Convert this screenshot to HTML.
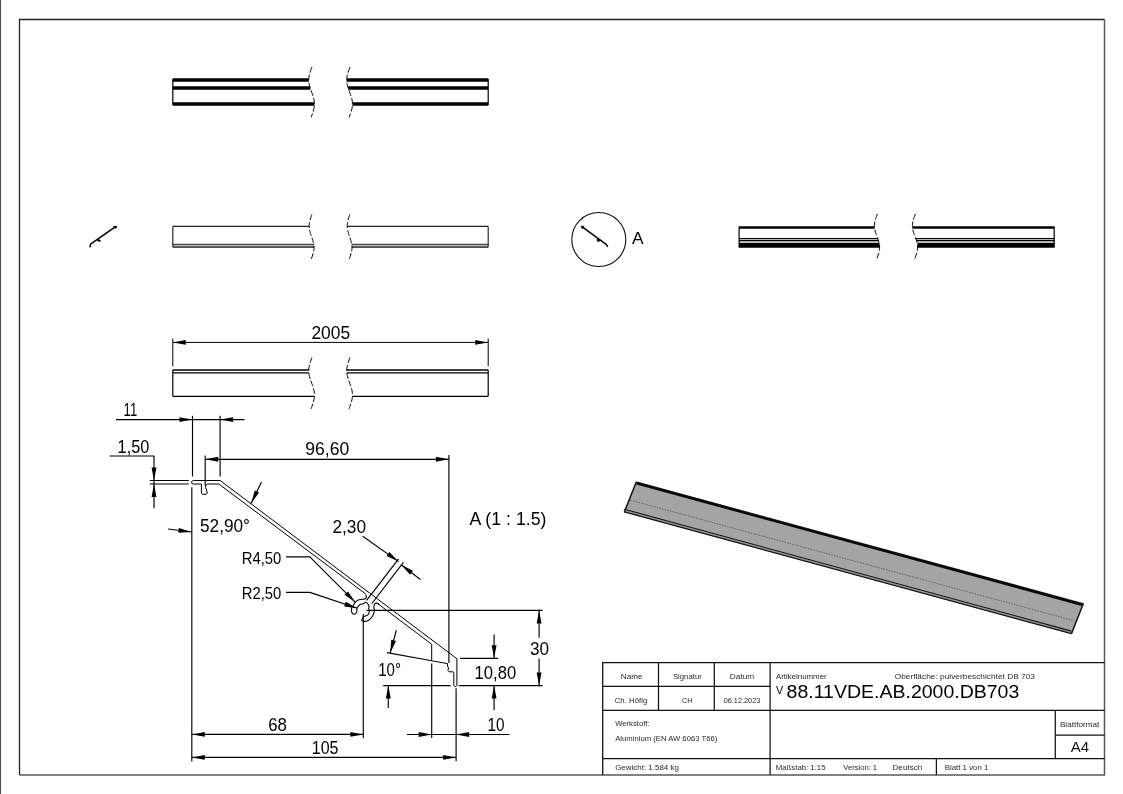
<!DOCTYPE html>
<html><head><meta charset="utf-8"><style>
html,body{margin:0;padding:0;background:#fff;width:1123px;height:794px;overflow:hidden}
svg{display:block;will-change:transform;font-family:"Liberation Sans",sans-serif}
</style></head><body>
<svg width="1123" height="794" viewBox="0 0 1123 794">
<line x1="0.50" y1="0.00" x2="0.50" y2="794.00" stroke="#555" stroke-width="1.2" />
<path d="M19.5,775 L19.5,19.5 L1104.5,19.5" fill="none" stroke="#222" stroke-width="1.3"/>
<path d="M19.5,775 L1104.5,775 L1104.5,19.5" fill="none" stroke="#5a5a5a" stroke-width="1.5"/>
<path d="M172.80,80.00 L308.75,80.00" stroke="#000" stroke-width="3.4" fill="none" stroke-linejoin="round" />
<path d="M346.75,80.00 L488.20,80.00" stroke="#000" stroke-width="3.4" fill="none" stroke-linejoin="round" />
<path d="M172.80,88.00 L310.18,88.00" stroke="#000" stroke-width="3.4" fill="none" stroke-linejoin="round" />
<path d="M348.18,88.00 L488.20,88.00" stroke="#000" stroke-width="3.4" fill="none" stroke-linejoin="round" />
<path d="M172.80,104.00 L314.45,104.00" stroke="#000" stroke-width="3.4" fill="none" stroke-linejoin="round" />
<path d="M352.45,104.00 L488.20,104.00" stroke="#000" stroke-width="3.4" fill="none" stroke-linejoin="round" />
<line x1="172.80" y1="79.00" x2="172.80" y2="105.00" stroke="#000" stroke-width="1.2" />
<line x1="488.20" y1="79.00" x2="488.20" y2="105.00" stroke="#000" stroke-width="1.2" />
<path d="M311.97,67.00 L311.50,68.26 L311.03,69.53 L310.58,70.79 L310.15,72.05 L309.77,73.31 L309.43,74.58 L309.16,75.84 L308.95,77.10 L308.81,78.36 L308.75,79.62 L308.77,80.89 L308.86,82.15 L309.03,83.41 L309.27,84.67 L309.57,85.94 L309.93,87.20 L310.34,88.46 L310.77,89.72 L311.23,90.99 L311.70,92.25 L312.17,93.51 L312.62,94.78 L313.05,96.04 L313.43,97.30 L313.77,98.56 L314.04,99.83 L314.25,101.09 L314.39,102.35 L314.45,103.61 L314.43,104.88 L314.34,106.14 L314.17,107.40 L313.93,108.66 L313.63,109.92 L313.27,111.19 L312.86,112.45 L312.43,113.71 L311.97,114.97 L311.50,116.24 L311.03,117.50" stroke="#000" stroke-width="1.0" fill="none" stroke-linejoin="round" stroke-dasharray="6,2"/>
<path d="M349.97,67.00 L349.50,68.26 L349.03,69.53 L348.58,70.79 L348.15,72.05 L347.77,73.31 L347.43,74.58 L347.16,75.84 L346.95,77.10 L346.81,78.36 L346.75,79.62 L346.77,80.89 L346.86,82.15 L347.03,83.41 L347.27,84.67 L347.57,85.94 L347.93,87.20 L348.34,88.46 L348.77,89.72 L349.23,90.99 L349.70,92.25 L350.17,93.51 L350.62,94.78 L351.05,96.04 L351.43,97.30 L351.77,98.56 L352.04,99.83 L352.25,101.09 L352.39,102.35 L352.45,103.61 L352.43,104.88 L352.34,106.14 L352.17,107.40 L351.93,108.66 L351.63,109.92 L351.27,111.19 L350.86,112.45 L350.43,113.71 L349.97,114.97 L349.50,116.24 L349.03,117.50" stroke="#000" stroke-width="1.0" fill="none" stroke-linejoin="round" stroke-dasharray="6,2"/>
<rect x="172.8" y="244.6" width="141.05" height="2.2" fill="#b8b8b8"/>
<rect x="351.85" y="244.6" width="136.35" height="2.2" fill="#b8b8b8"/>
<path d="M172.80,226.40 L309.20,226.40" stroke="#222" stroke-width="1.15" fill="none" stroke-linejoin="round" />
<path d="M347.20,226.40 L488.20,226.40" stroke="#222" stroke-width="1.15" fill="none" stroke-linejoin="round" />
<path d="M172.80,244.30 L313.75,244.30" stroke="#222" stroke-width="1.0" fill="none" stroke-linejoin="round" />
<path d="M351.75,244.30 L488.20,244.30" stroke="#222" stroke-width="1.0" fill="none" stroke-linejoin="round" />
<path d="M172.80,247.10 L314.00,247.10" stroke="#111" stroke-width="1.2" fill="none" stroke-linejoin="round" />
<path d="M352.00,247.10 L488.20,247.10" stroke="#111" stroke-width="1.2" fill="none" stroke-linejoin="round" />
<line x1="172.80" y1="226.40" x2="172.80" y2="247.10" stroke="#222" stroke-width="1.15" />
<line x1="488.20" y1="226.40" x2="488.20" y2="247.10" stroke="#222" stroke-width="1.15" />
<path d="M311.91,214.40 L311.51,215.53 L311.12,216.66 L310.74,217.78 L310.38,218.91 L310.06,220.04 L309.78,221.16 L309.54,222.29 L309.37,223.42 L309.25,224.55 L309.20,225.68 L309.22,226.80 L309.30,227.93 L309.44,229.06 L309.64,230.19 L309.89,231.31 L310.20,232.44 L310.54,233.57 L310.90,234.69 L311.29,235.82 L311.69,236.95 L312.08,238.08 L312.46,239.21 L312.82,240.33 L313.14,241.46 L313.42,242.59 L313.66,243.72 L313.83,244.84 L313.95,245.97 L314.00,247.10 L313.98,248.22 L313.90,249.35 L313.76,250.48 L313.56,251.61 L313.31,252.74 L313.00,253.86 L312.66,254.99 L312.30,256.12 L311.91,257.25 L311.51,258.37 L311.12,259.50" stroke="#000" stroke-width="1.0" fill="none" stroke-linejoin="round" stroke-dasharray="6,2"/>
<path d="M349.91,214.40 L349.51,215.53 L349.12,216.66 L348.74,217.78 L348.38,218.91 L348.06,220.04 L347.78,221.16 L347.54,222.29 L347.37,223.42 L347.25,224.55 L347.20,225.68 L347.22,226.80 L347.30,227.93 L347.44,229.06 L347.64,230.19 L347.89,231.31 L348.20,232.44 L348.54,233.57 L348.90,234.69 L349.29,235.82 L349.69,236.95 L350.08,238.08 L350.46,239.21 L350.82,240.33 L351.14,241.46 L351.42,242.59 L351.66,243.72 L351.83,244.84 L351.95,245.97 L352.00,247.10 L351.98,248.22 L351.90,249.35 L351.76,250.48 L351.56,251.61 L351.31,252.74 L351.00,253.86 L350.66,254.99 L350.30,256.12 L349.91,257.25 L349.51,258.37 L349.12,259.50" stroke="#000" stroke-width="1.0" fill="none" stroke-linejoin="round" stroke-dasharray="6,2"/>
<path d="M89.90,247.30 L90.60,244.20 L92.00,243.20 L115.60,226.60" stroke="#000" stroke-width="1.5" fill="none" stroke-linejoin="round" />
<path d="M97.8,239.2 L100.6,240.6 L99.6,241.6 L97.8,240.8 Z" fill="#000" stroke="#000" stroke-width="0.8"/>
<path d="M113.6,226.6 L116.8,226.4 L115.6,228.4 Z" fill="#000" stroke="#000" stroke-width="1"/>
<path d="M172.80,370.00 L308.76,370.00" stroke="#000" stroke-width="1.3" fill="none" stroke-linejoin="round" />
<path d="M346.76,370.00 L488.20,370.00" stroke="#000" stroke-width="1.3" fill="none" stroke-linejoin="round" />
<path d="M172.80,372.80 L308.86,372.80" stroke="#000" stroke-width="1.2" fill="none" stroke-linejoin="round" />
<path d="M346.86,372.80 L488.20,372.80" stroke="#000" stroke-width="1.2" fill="none" stroke-linejoin="round" />
<path d="M172.80,396.30 L314.42,396.30" stroke="#000" stroke-width="1.2" fill="none" stroke-linejoin="round" />
<path d="M352.42,396.30 L488.20,396.30" stroke="#000" stroke-width="1.2" fill="none" stroke-linejoin="round" />
<line x1="172.80" y1="370.00" x2="172.80" y2="396.30" stroke="#000" stroke-width="1.2" />
<line x1="488.20" y1="370.00" x2="488.20" y2="396.30" stroke="#000" stroke-width="1.2" />
<path d="M311.97,357.40 L311.50,358.69 L311.03,359.97 L310.58,361.26 L310.15,362.55 L309.77,363.84 L309.43,365.12 L309.16,366.41 L308.95,367.70 L308.81,368.99 L308.75,370.27 L308.77,371.56 L308.86,372.85 L309.03,374.14 L309.27,375.42 L309.57,376.71 L309.93,378.00 L310.34,379.29 L310.77,380.57 L311.23,381.86 L311.70,383.15 L312.17,384.44 L312.62,385.72 L313.05,387.01 L313.43,388.30 L313.77,389.59 L314.04,390.88 L314.25,392.16 L314.39,393.45 L314.45,394.74 L314.43,396.02 L314.34,397.31 L314.17,398.60 L313.93,399.89 L313.63,401.17 L313.27,402.46 L312.86,403.75 L312.43,405.04 L311.97,406.32 L311.50,407.61 L311.03,408.90" stroke="#000" stroke-width="1.0" fill="none" stroke-linejoin="round" stroke-dasharray="6,2"/>
<path d="M349.97,357.40 L349.50,358.69 L349.03,359.97 L348.58,361.26 L348.15,362.55 L347.77,363.84 L347.43,365.12 L347.16,366.41 L346.95,367.70 L346.81,368.99 L346.75,370.27 L346.77,371.56 L346.86,372.85 L347.03,374.14 L347.27,375.42 L347.57,376.71 L347.93,378.00 L348.34,379.29 L348.77,380.57 L349.23,381.86 L349.70,383.15 L350.17,384.44 L350.62,385.72 L351.05,387.01 L351.43,388.30 L351.77,389.59 L352.04,390.88 L352.25,392.16 L352.39,393.45 L352.45,394.74 L352.43,396.02 L352.34,397.31 L352.17,398.60 L351.93,399.89 L351.63,401.17 L351.27,402.46 L350.86,403.75 L350.43,405.04 L349.97,406.32 L349.50,407.61 L349.03,408.90" stroke="#000" stroke-width="1.0" fill="none" stroke-linejoin="round" stroke-dasharray="6,2"/>
<line x1="172.80" y1="338.60" x2="172.80" y2="366.30" stroke="#000" stroke-width="1.0" />
<line x1="488.20" y1="338.60" x2="488.20" y2="366.30" stroke="#000" stroke-width="1.0" />
<line x1="172.80" y1="342.40" x2="488.20" y2="342.40" stroke="#000" stroke-width="1.0" />
<path d="M172.80,342.40 L185.80,339.95 L185.80,344.85 Z" fill="#000"/>
<path d="M488.20,342.40 L475.20,344.85 L475.20,339.95 Z" fill="#000"/>
<text x="311.40" y="338.60" font-size="17.8" fill="#000" textLength="38.7" lengthAdjust="spacingAndGlyphs">2005</text>
<circle cx="598.8" cy="239.5" r="27" fill="none" stroke="#111" stroke-width="1.1"/>
<path d="M582.20,226.80 L606.20,244.30 L607.80,246.90" stroke="#000" stroke-width="1.5" fill="none" stroke-linejoin="round" />
<path d="M597,239.3 L599.8,240.3 L599.2,241.6 L597.2,240.9 Z" fill="#000" stroke="#000" stroke-width="0.8"/>
<path d="M581,226.2 L583.8,226.6 L582.6,228.6 Z" fill="#000" stroke="#000" stroke-width="1"/>
<text x="632.00" y="244.30" font-size="16.8" fill="#000" textLength="11.6" lengthAdjust="spacingAndGlyphs">A</text>
<path d="M739.10,239.40 L878.06,239.40" stroke="#999" stroke-width="0.8" fill="none" stroke-linejoin="round" />
<path d="M916.06,239.40 L1054.20,239.40" stroke="#999" stroke-width="0.8" fill="none" stroke-linejoin="round" />
<path d="M739.10,242.20 L878.92,242.20" stroke="#c0c0c0" stroke-width="1.6" fill="none" stroke-linejoin="round" />
<path d="M916.92,242.20 L1054.20,242.20" stroke="#c0c0c0" stroke-width="1.6" fill="none" stroke-linejoin="round" />
<path d="M739.10,227.40 L874.48,227.40" stroke="#000" stroke-width="2.5" fill="none" stroke-linejoin="round" />
<path d="M912.48,227.40 L1054.20,227.40" stroke="#000" stroke-width="2.5" fill="none" stroke-linejoin="round" />
<path d="M739.10,238.50 L877.75,238.50" stroke="#000" stroke-width="1.0" fill="none" stroke-linejoin="round" />
<path d="M915.75,238.50 L1054.20,238.50" stroke="#000" stroke-width="1.0" fill="none" stroke-linejoin="round" />
<path d="M739.10,240.60 L878.46,240.60" stroke="#000" stroke-width="1.4" fill="none" stroke-linejoin="round" />
<path d="M916.46,240.60 L1054.20,240.60" stroke="#000" stroke-width="1.4" fill="none" stroke-linejoin="round" />
<path d="M739.10,245.35 L879.50,245.35" stroke="#000" stroke-width="4.7" fill="none" stroke-linejoin="round" />
<path d="M917.50,245.35 L1054.20,245.35" stroke="#000" stroke-width="4.7" fill="none" stroke-linejoin="round" />
<line x1="739.10" y1="226.50" x2="739.10" y2="247.60" stroke="#000" stroke-width="1.2" />
<line x1="1054.20" y1="226.50" x2="1054.20" y2="247.60" stroke="#000" stroke-width="1.2" />
<path d="M877.33,214.00 L876.91,215.14 L876.48,216.28 L876.07,217.41 L875.68,218.55 L875.33,219.69 L875.02,220.82 L874.77,221.96 L874.58,223.10 L874.46,224.24 L874.40,225.38 L874.42,226.51 L874.50,227.65 L874.66,228.79 L874.88,229.93 L875.15,231.06 L875.48,232.20 L875.85,233.34 L876.25,234.47 L876.67,235.61 L877.09,236.75 L877.52,237.89 L877.93,239.03 L878.32,240.16 L878.67,241.30 L878.98,242.44 L879.23,243.57 L879.42,244.71 L879.54,245.85 L879.60,246.99 L879.58,248.12 L879.50,249.26 L879.34,250.40 L879.12,251.54 L878.85,252.68 L878.52,253.81 L878.15,254.95 L877.75,256.09 L877.33,257.23 L876.91,258.36 L876.48,259.50" stroke="#000" stroke-width="1.0" fill="none" stroke-linejoin="round" stroke-dasharray="6,2"/>
<path d="M915.33,214.00 L914.91,215.14 L914.48,216.28 L914.07,217.41 L913.68,218.55 L913.33,219.69 L913.02,220.82 L912.77,221.96 L912.58,223.10 L912.46,224.24 L912.40,225.38 L912.42,226.51 L912.50,227.65 L912.66,228.79 L912.88,229.93 L913.15,231.06 L913.48,232.20 L913.85,233.34 L914.25,234.47 L914.67,235.61 L915.09,236.75 L915.52,237.89 L915.93,239.03 L916.32,240.16 L916.67,241.30 L916.98,242.44 L917.23,243.57 L917.42,244.71 L917.54,245.85 L917.60,246.99 L917.58,248.12 L917.50,249.26 L917.34,250.40 L917.12,251.54 L916.85,252.68 L916.52,253.81 L916.15,254.95 L915.75,256.09 L915.33,257.23 L914.91,258.36 L914.48,259.50" stroke="#000" stroke-width="1.0" fill="none" stroke-linejoin="round" stroke-dasharray="6,2"/>
<path d="M636.40,481.80 L1083.40,603.40 L1071.40,632.90 L624.30,511.00 Z" stroke="#444" stroke-width="0.6" fill="#a4a4a4" stroke-linejoin="round" />
<line x1="636.70" y1="483.20" x2="1083.10" y2="604.80" stroke="#080808" stroke-width="2.8" />
<path d="M624.3,510.5 L1071.4,632.4" stroke="#9a9a9a" stroke-width="3"/>
<line x1="624.30" y1="509.20" x2="1071.40" y2="631.10" stroke="#111" stroke-width="1.1" />
<line x1="624.30" y1="511.80" x2="1071.40" y2="633.70" stroke="#111" stroke-width="1.2" />
<path d="M636.40,481.80 L624.30,512.20" stroke="#111" stroke-width="1.4" fill="none" stroke-linejoin="round" />
<path d="M1083.40,603.40 L1071.40,634.10" stroke="#111" stroke-width="1.4" fill="none" stroke-linejoin="round" />
<line x1="630.70" y1="500.30" x2="1073.60" y2="620.60" stroke="#5a5a5a" stroke-width="0.9" stroke-dasharray="1.6,1.1"/>
<path d="M602.7,775 L602.7,662.6 L1104.5,662.6" fill="none" stroke="#111" stroke-width="1.3"/>
<line x1="602.70" y1="686.40" x2="770.10" y2="686.40" stroke="#111" stroke-width="1.25" />
<line x1="602.70" y1="710.40" x2="1104.50" y2="710.40" stroke="#111" stroke-width="1.25" />
<line x1="602.70" y1="758.70" x2="1104.50" y2="758.70" stroke="#111" stroke-width="1.25" />
<line x1="658.50" y1="662.60" x2="658.50" y2="710.40" stroke="#111" stroke-width="1.25" />
<line x1="714.30" y1="662.60" x2="714.30" y2="710.40" stroke="#111" stroke-width="1.25" />
<line x1="770.10" y1="662.60" x2="770.10" y2="775.00" stroke="#111" stroke-width="1.25" />
<line x1="1055.30" y1="710.40" x2="1055.30" y2="758.70" stroke="#111" stroke-width="1.25" />
<line x1="1055.30" y1="735.20" x2="1104.50" y2="735.20" stroke="#111" stroke-width="1.25" />
<line x1="936.40" y1="758.70" x2="936.40" y2="775.00" stroke="#111" stroke-width="1.25" />
<text x="620.8" y="679.2" font-size="7.3" fill="#2a2a2a" textLength="21.7" lengthAdjust="spacingAndGlyphs">Name</text>
<text x="672.9" y="679.2" font-size="7.3" fill="#2a2a2a" textLength="28.9" lengthAdjust="spacingAndGlyphs">Signatur</text>
<text x="729.8" y="679.2" font-size="7.3" fill="#2a2a2a" textLength="24.4" lengthAdjust="spacingAndGlyphs">Datum</text>
<text x="614.7" y="702.5" font-size="7.3" fill="#2a2a2a" textLength="32.6" lengthAdjust="spacingAndGlyphs">Ch. Höfig</text>
<text x="682.1" y="702.5" font-size="7.3" fill="#2a2a2a" textLength="10.5" lengthAdjust="spacingAndGlyphs">CH</text>
<text x="723.7" y="702.5" font-size="7.3" fill="#2a2a2a" textLength="36.6" lengthAdjust="spacingAndGlyphs">06.12.2023</text>
<text x="615.2" y="726.3" font-size="7.3" fill="#2a2a2a" textLength="34.2" lengthAdjust="spacingAndGlyphs">Werkstoff:</text>
<text x="615.2" y="740.8" font-size="7.3" fill="#2a2a2a" textLength="102.1" lengthAdjust="spacingAndGlyphs">Aluminium (EN AW 6063 T66)</text>
<text x="615.2" y="769.8" font-size="7.3" fill="#2a2a2a" textLength="63.7" lengthAdjust="spacingAndGlyphs">Gewicht: 1.584 kg</text>
<text x="775.9" y="678.9" font-size="6.8" fill="#2a2a2a" textLength="50.8" lengthAdjust="spacingAndGlyphs">Artikelnummer</text>
<text x="894.7" y="678.8" font-size="6.8" fill="#2a2a2a" textLength="140.3" lengthAdjust="spacingAndGlyphs">Oberfläche:  pulverbeschichtet DB 703</text>
<text x="776" y="693.6" font-size="11.4" fill="#000" textLength="7.2" lengthAdjust="spacingAndGlyphs">V</text>
<text x="786.60" y="697.60" font-size="19.2" fill="#000" textLength="232.7" lengthAdjust="spacingAndGlyphs">88.11VDE.AB.2000.DB703</text>
<text x="1059.9" y="726.5" font-size="7.3" fill="#2a2a2a" textLength="39.4" lengthAdjust="spacingAndGlyphs">Blattformat</text>
<text x="1070.70" y="751.80" font-size="14.8" fill="#111" textLength="18.4" lengthAdjust="spacingAndGlyphs">A4</text>
<text x="775.8" y="770.1" font-size="7.3" fill="#2a2a2a" textLength="49.7" lengthAdjust="spacingAndGlyphs">Maßstab: 1:15</text>
<text x="843.3" y="770.1" font-size="7.3" fill="#2a2a2a" textLength="33.8" lengthAdjust="spacingAndGlyphs">Version: 1</text>
<text x="892.5" y="770.1" font-size="7.3" fill="#2a2a2a" textLength="29.8" lengthAdjust="spacingAndGlyphs">Deutsch</text>
<text x="944.7" y="770.1" font-size="7.3" fill="#2a2a2a" textLength="43.7" lengthAdjust="spacingAndGlyphs">Blatt 1 von 1</text>
<line x1="149.80" y1="480.50" x2="188.80" y2="480.50" stroke="#000" stroke-width="1.15" />
<line x1="149.80" y1="484.00" x2="188.80" y2="484.00" stroke="#000" stroke-width="1.15" />
<path d="M193.50,480.50 L220.10,480.50 L456.90,658.72" stroke="#000" stroke-width="1.0" fill="none" stroke-linejoin="round" />
<path d="M456.90,658.72 L456.90,685.50 L456.20,686.40 L454.60,686.40 L453.80,685.50 L453.80,672.50 L453.00,671.80 L449.00,671.80 L448.00,670.50 L448.50,668.00 L447.50,666.00 L447.50,663.60 L431.70,660.80 L431.70,644.25 L376.80,602.93" stroke="#000" stroke-width="1.0" fill="none" stroke-linejoin="round" />
<path d="M193.50,480.50 L191.80,481.30 L191.60,483.20 L193.00,484.00 L201.40,484.00 L201.40,493.00 L202.30,494.30 L206.30,494.30 L207.20,493.00 L206.60,490.00 L205.50,487.50 L206.00,485.00 L207.50,484.00 L218.80,484.00 L365.70,593.98" stroke="#000" stroke-width="1.0" fill="none" stroke-linejoin="round" />
<path d="M365.70,594.90 C365.82,595.18 366.47,595.95 366.40,596.60 C366.33,597.25 365.93,598.35 365.30,598.80 C364.67,599.25 363.78,599.08 362.60,599.30 C361.42,599.52 359.37,599.67 358.20,600.10 C357.03,600.53 356.40,601.08 355.60,601.90 C354.80,602.72 354.07,603.90 353.40,605.00 C352.73,606.10 351.90,607.33 351.60,608.50 C351.30,609.67 351.15,611.03 351.60,612.00 C352.05,612.97 353.45,614.30 354.30,614.30 C355.15,614.30 356.27,612.97 356.70,612.00 C357.13,611.03 356.72,609.37 356.90,608.50 C357.08,607.63 357.28,607.45 357.80,606.80 C358.32,606.15 359.05,605.12 360.00,604.60 C360.95,604.08 362.55,604.08 363.50,603.70 C364.45,603.32 364.88,602.15 365.70,602.30 C366.52,602.45 367.85,603.85 368.40,604.60 C368.95,605.35 368.97,606.15 369.00,606.80 C369.03,607.45 368.55,607.85 368.60,608.50 C368.65,609.15 369.33,609.73 369.30,610.70 C369.27,611.67 369.00,613.42 368.40,614.30 C367.80,615.18 366.52,615.63 365.70,616.00 C364.88,616.37 364.02,616.13 363.50,616.50 C362.98,616.87 362.88,617.62 362.60,618.20 C362.32,618.78 361.65,619.48 361.80,620.00 C361.95,620.52 362.40,621.23 363.50,621.30 C364.60,621.37 366.93,621.20 368.40,620.40 C369.87,619.60 371.32,618.03 372.30,616.50 C373.28,614.97 374.03,612.82 374.30,611.20 C374.57,609.58 373.78,608.05 373.90,606.80 C374.02,605.55 374.52,604.30 375.00,603.70 C375.48,603.10 376.07,603.05 376.80,603.20 C377.53,603.35 378.97,604.37 379.40,604.60" fill="none" stroke="#000" stroke-width="1.1" stroke-linejoin="round"/>
<line x1="366.60" y1="600.40" x2="398.60" y2="558.80" stroke="#000" stroke-width="1.15" />
<line x1="371.90" y1="603.50" x2="403.40" y2="562.40" stroke="#000" stroke-width="1.15" />
<line x1="116.00" y1="419.60" x2="244.50" y2="419.60" stroke="#000" stroke-width="1.15" />
<line x1="192.50" y1="415.80" x2="192.50" y2="476.50" stroke="#000" stroke-width="1.15" />
<line x1="220.10" y1="415.80" x2="220.10" y2="476.50" stroke="#000" stroke-width="1.15" />
<line x1="191.80" y1="487.20" x2="191.80" y2="761.40" stroke="#000" stroke-width="1.15" />
<path d="M192.50,419.60 L179.50,422.05 L179.50,417.15 Z" fill="#000"/>
<path d="M220.10,419.60 L233.10,417.15 L233.10,422.05 Z" fill="#000"/>
<text x="123.60" y="416.00" font-size="17.8" fill="#000" textLength="13.6" lengthAdjust="spacingAndGlyphs">11</text>
<path d="M109.80,456.00 L154.00,456.00 L154.00,508.30" stroke="#000" stroke-width="1.15" fill="none" stroke-linejoin="round" />
<path d="M154.00,480.50 L151.55,467.50 L156.45,467.50 Z" fill="#000"/>
<path d="M154.00,484.00 L156.45,497.00 L151.55,497.00 Z" fill="#000"/>
<text x="117.60" y="452.60" font-size="17.8" fill="#000" textLength="31.7" lengthAdjust="spacingAndGlyphs">1,50</text>
<line x1="205.20" y1="455.40" x2="205.20" y2="485.80" stroke="#000" stroke-width="1.15" />
<line x1="448.90" y1="455.00" x2="448.90" y2="663.00" stroke="#000" stroke-width="1.15" />
<line x1="205.20" y1="459.30" x2="448.90" y2="459.30" stroke="#000" stroke-width="1.15" />
<path d="M205.20,459.30 L218.20,456.85 L218.20,461.75 Z" fill="#000"/>
<path d="M448.90,459.30 L435.90,461.75 L435.90,456.85 Z" fill="#000"/>
<text x="305.30" y="455.00" font-size="17.8" fill="#000" textLength="44.0" lengthAdjust="spacingAndGlyphs">96,60</text>
<path d="M168.00,529.00 L192.00,532.00" stroke="#000" stroke-width="1.15" fill="none" stroke-linejoin="round" />
<path d="M191.50,532.00 L178.29,532.78 L178.91,527.92 Z" fill="#000"/>
<path d="M261.50,481.90 L251.00,503.60" stroke="#000" stroke-width="1.15" fill="none" stroke-linejoin="round" />
<path d="M251.30,503.30 L254.68,490.51 L259.11,492.62 Z" fill="#000"/>
<text x="200.00" y="532.00" font-size="17.8" fill="#000" textLength="50.0" lengthAdjust="spacingAndGlyphs">52,90°</text>
<line x1="362.70" y1="536.30" x2="398.60" y2="561.60" stroke="#000" stroke-width="1.15" />
<path d="M398.60,561.60 L386.56,556.11 L389.39,552.11 Z" fill="#000"/>
<line x1="420.40" y1="579.50" x2="401.20" y2="564.80" stroke="#000" stroke-width="1.15" />
<path d="M401.20,564.80 L413.01,570.76 L410.03,574.65 Z" fill="#000"/>
<text x="332.40" y="533.10" font-size="17.8" fill="#000" textLength="33.6" lengthAdjust="spacingAndGlyphs">2,30</text>
<path d="M286.10,556.80 L309.80,556.80 L355.40,602.30" stroke="#000" stroke-width="1.15" fill="none" stroke-linejoin="round" />
<path d="M355.40,602.30 L344.47,594.85 L347.93,591.38 Z" fill="#000"/>
<path d="M286.10,592.40 L309.80,592.40 L357.30,608.30" stroke="#000" stroke-width="1.15" fill="none" stroke-linejoin="round" />
<path d="M357.30,608.30 L344.19,606.50 L345.75,601.85 Z" fill="#000"/>
<text x="241.70" y="563.50" font-size="15.6" fill="#000" textLength="39.6" lengthAdjust="spacingAndGlyphs">R4,50</text>
<text x="241.70" y="598.60" font-size="15.6" fill="#000" textLength="39.6" lengthAdjust="spacingAndGlyphs">R2,50</text>
<text x="469.60" y="525.20" font-size="17.8" fill="#000" textLength="76.9" lengthAdjust="spacingAndGlyphs">A (1 : 1.5)</text>
<line x1="366.60" y1="610.40" x2="542.60" y2="610.40" stroke="#000" stroke-width="1.15" />
<line x1="460.10" y1="658.30" x2="498.20" y2="658.30" stroke="#000" stroke-width="1.15" />
<line x1="383.20" y1="685.60" x2="450.60" y2="685.60" stroke="#000" stroke-width="1.15" />
<line x1="458.80" y1="685.60" x2="542.60" y2="685.60" stroke="#000" stroke-width="1.15" />
<line x1="539.10" y1="610.40" x2="539.10" y2="637.80" stroke="#000" stroke-width="1.15" />
<line x1="539.10" y1="658.60" x2="539.10" y2="685.60" stroke="#000" stroke-width="1.15" />
<path d="M539.10,610.40 L541.55,623.40 L536.65,623.40 Z" fill="#000"/>
<path d="M539.10,685.60 L536.65,672.60 L541.55,672.60 Z" fill="#000"/>
<text x="529.90" y="655.30" font-size="17.8" fill="#000" textLength="19.1" lengthAdjust="spacingAndGlyphs">30</text>
<line x1="494.10" y1="634.40" x2="494.10" y2="658.30" stroke="#000" stroke-width="1.15" />
<path d="M494.10,658.30 L491.65,645.30 L496.55,645.30 Z" fill="#000"/>
<line x1="494.10" y1="685.60" x2="494.10" y2="710.00" stroke="#000" stroke-width="1.15" />
<path d="M494.10,685.60 L496.55,698.60 L491.65,698.60 Z" fill="#000"/>
<text x="474.60" y="678.70" font-size="17.8" fill="#000" textLength="41.6" lengthAdjust="spacingAndGlyphs">10,80</text>
<line x1="387.00" y1="652.60" x2="431.70" y2="660.80" stroke="#000" stroke-width="1.15" />
<line x1="396.40" y1="630.20" x2="390.20" y2="652.90" stroke="#000" stroke-width="1.15" />
<path d="M390.20,652.90 L391.26,639.71 L395.99,641.00 Z" fill="#000"/>
<line x1="388.30" y1="685.60" x2="388.30" y2="708.00" stroke="#000" stroke-width="1.15" />
<path d="M388.30,685.60 L390.75,698.60 L385.85,698.60 Z" fill="#000"/>
<text x="378.20" y="676.20" font-size="17.8" fill="#000" textLength="22.7" lengthAdjust="spacingAndGlyphs">10°</text>
<line x1="363.30" y1="614.00" x2="363.30" y2="738.30" stroke="#000" stroke-width="1.15" />
<line x1="431.70" y1="663.50" x2="431.70" y2="738.00" stroke="#000" stroke-width="1.15" />
<line x1="456.10" y1="688.30" x2="456.10" y2="761.30" stroke="#000" stroke-width="1.15" />
<line x1="191.80" y1="734.40" x2="363.30" y2="734.40" stroke="#000" stroke-width="1.15" />
<path d="M191.80,734.40 L204.80,731.95 L204.80,736.85 Z" fill="#000"/>
<path d="M363.30,734.40 L350.30,736.85 L350.30,731.95 Z" fill="#000"/>
<text x="268.20" y="730.60" font-size="17.8" fill="#000" textLength="18.7" lengthAdjust="spacingAndGlyphs">68</text>
<line x1="191.80" y1="757.40" x2="456.10" y2="757.40" stroke="#000" stroke-width="1.15" />
<path d="M191.80,757.40 L204.80,754.95 L204.80,759.85 Z" fill="#000"/>
<path d="M456.10,757.40 L443.10,759.85 L443.10,754.95 Z" fill="#000"/>
<text x="311.80" y="753.80" font-size="17.8" fill="#000" textLength="26.7" lengthAdjust="spacingAndGlyphs">105</text>
<line x1="407.00" y1="734.50" x2="509.60" y2="734.50" stroke="#000" stroke-width="1.15" />
<path d="M431.70,734.50 L418.70,736.95 L418.70,732.05 Z" fill="#000"/>
<path d="M456.10,734.50 L469.10,732.05 L469.10,736.95 Z" fill="#000"/>
<text x="487.60" y="730.50" font-size="17.8" fill="#000" textLength="17.0" lengthAdjust="spacingAndGlyphs">10</text>
</svg>
</body></html>
